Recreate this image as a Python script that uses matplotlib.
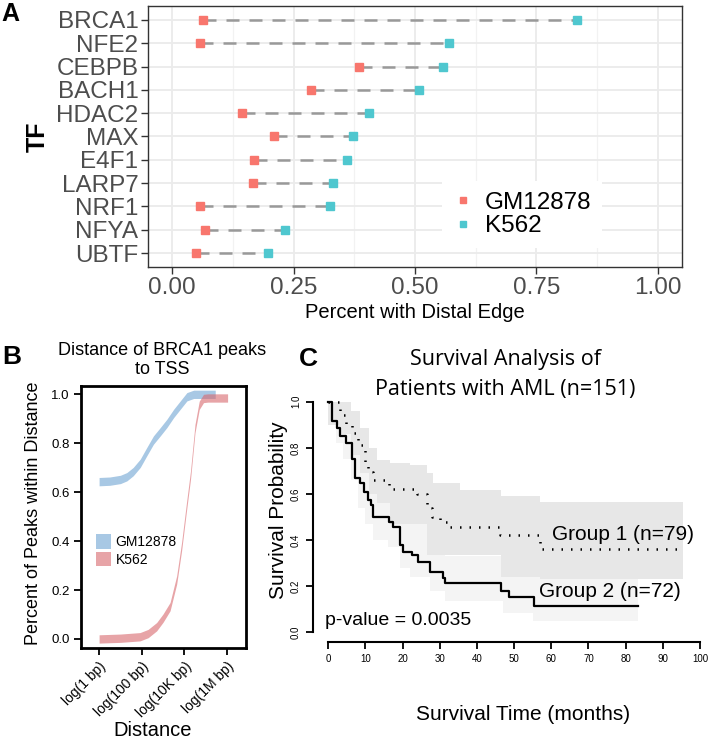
import numpy as np
import matplotlib.pyplot as plt
from matplotlib.patches import Patch
from matplotlib.lines import Line2D

plt.rcParams['font.family'] = ['Liberation Sans', 'DejaVu Sans']

# ---- Panel A: Anteil mit distaler Kante pro TF
tf_names = ['BRCA1', 'NFE2', 'CEBPB', 'BACH1', 'HDAC2', 'MAX', 'E4F1', 'LARP7', 'NRF1', 'NFYA', 'UBTF']
gm_distal = [0.063, 0.057, 0.384, 0.285, 0.144, 0.210, 0.169, 0.167, 0.058, 0.067, 0.049]
k562_distal = [0.833, 0.570, 0.557, 0.509, 0.406, 0.372, 0.360, 0.331, 0.324, 0.233, 0.198]
a_xticks = [0, 0.25, 0.5, 0.75, 1.0]
a_xlabels = ['0.00', '0.25', '0.50', '0.75', '1.00']

# ---- Panel B: kumulative Verteilung der Distanz zum TSS (log10 bp)
gm_logdist = [0, 0.5, 1.0, 1.3, 1.6, 1.93, 2.24, 2.55, 2.87, 3.18, 3.5, 3.81, 4.12, 4.44, 5.45]
gm_frac = [0.643, 0.645, 0.652, 0.663, 0.684, 0.718, 0.766, 0.813, 0.847, 0.881, 0.922, 0.956, 0.99, 1.0, 1.0]
k562_logdist = [0, 1.0, 1.92, 2.3, 2.7, 3.0, 3.33, 3.64, 3.87, 4.1, 4.29, 4.5, 4.7, 4.9, 5.1, 6.03]
k562_frac = [0.0, 0.003, 0.009, 0.022, 0.05, 0.085, 0.132, 0.241, 0.377, 0.54, 0.67, 0.86, 0.955, 0.983, 0.985, 0.985]
b_xticks = [0, 2, 4, 6]
b_xlabels = ['log(1 bp)', 'log(100 bp)', 'log(10K bp)', 'log(1M bp)']
b_yticks = [0.0, 0.2, 0.4, 0.6, 0.8, 1.0]

# ---- Panel C: Kaplan-Meier
g1_time = [0, 3.15, 4.9, 6.3, 8.1, 9.9, 10.76, 12.1, 16.4, 23.9, 26.5, 27.8, 30.0, 32.3, 46.2, 57.0, 93.7]
g1_surv = [1.0, 0.942, 0.899, 0.863, 0.813, 0.733, 0.697, 0.66, 0.62, 0.598, 0.538, 0.501, 0.48, 0.458, 0.422, 0.36, 0.36]
g2_time = [0, 1.0, 2.25, 3.15, 4.76, 6.29, 7.19, 8.53, 9.7, 10.76, 11.5, 12.1, 16.4, 17.5, 19.3, 20.2, 22.4,
           24.2, 27.4, 30.8, 31.4, 46.6, 48.5, 55.3, 83.4]
g2_surv = [1.0, 0.918, 0.885, 0.851, 0.822, 0.75, 0.668, 0.646, 0.61, 0.574, 0.552, 0.50, 0.48, 0.458, 0.379,
           0.35, 0.335, 0.306, 0.26, 0.237, 0.212, 0.18, 0.154, 0.115, 0.115]
g1_ci_time = [0, 3, 6, 8.5, 11, 13, 16.6, 22, 26.5, 28.3, 35.4, 46.5, 57, 95.5]
g1_ci_up = [1.0, 1.0, 0.96, 0.886, 0.80, 0.747, 0.735, 0.725, 0.69, 0.646, 0.617, 0.59, 0.566, 0.566]
g1_ci_lo = [0.9, 0.86, 0.77, 0.69, 0.6, 0.56, 0.47, 0.47, 0.335, 0.335, 0.335, 0.24, 0.23, 0.23]
g2_ci_time = [0, 2, 4, 6, 8, 10, 12, 16, 19.3, 22, 27.4, 31.4, 46.9, 55, 83.4]
g2_ci_up = [1.0, 1.0, 0.96, 0.9, 0.8, 0.72, 0.63, 0.61, 0.5, 0.47, 0.38, 0.33, 0.29, 0.24, 0.24]
g2_ci_lo = [0.92, 0.82, 0.75, 0.66, 0.54, 0.47, 0.40, 0.37, 0.28, 0.24, 0.18, 0.135, 0.085, 0.05, 0.05]
c_xticks = list(range(0, 101, 10))
c_yticks = [0.0, 0.2, 0.4, 0.6, 0.8, 1.0]

rot = '#F8766D'
tuerkis = '#4FC7CF'
blau = '#A8C8E4'
rosa = '#D8676D'

fig = plt.figure(figsize=(7.09, 7.40), dpi=100)
W, H = 709, 740


def fx(px):
    return px / W


def fy(py):
    return 1 - py / H


# ===== A =====
axA = fig.add_axes([fx(148), fy(267), fx(682) - fx(148), fy(6) - fy(267)])
ypos = np.arange(len(tf_names))[::-1] + 1
for g, k, yy in zip(gm_distal, k562_distal, ypos):
    axA.plot([g, k], [yy, yy], color='#999999', lw=1.8, dashes=(5.2, 4), zorder=2)
axA.plot(gm_distal, ypos, 's', color=rot, ms=5.5, zorder=3)
axA.plot(k562_distal, ypos, 's', color=tuerkis, ms=5.5, zorder=3)
axA.set_xlim(-0.05, 1.05)
axA.set_ylim(0.4, 11.6)
axA.set_xticks(a_xticks)
axA.set_xticklabels(a_xlabels)
axA.set_xticks(np.arange(0.125, 1.0, 0.25), minor=True)
axA.set_yticks(ypos)
axA.set_yticklabels(tf_names)
axA.set_axisbelow(True)
axA.grid(which='major', color='#EBEBEB', lw=1.3)
axA.grid(which='minor', axis='x', color='#F2F2F2', lw=0.9)
axA.tick_params(which='minor', length=0)
axA.tick_params(which='major', labelsize=17.5, labelcolor='#4D4D4D', color='#333333', length=5, width=1, pad=2)
for s in axA.spines.values():
    s.set_color('#333333')
    s.set_linewidth(1)
hand = [Line2D([], [], marker='s', ls='none', color=rot, ms=5),
        Line2D([], [], marker='s', ls='none', color=tuerkis, ms=5)]
lg = axA.legend(hand, ['GM12878', 'K562'], loc='center', bbox_to_anchor=(0.701, 0.201), fontsize=17.5,
                frameon=True, facecolor='white', edgecolor='none', framealpha=1, handlelength=0.8,
                handletextpad=0.5, labelspacing=0.05, borderpad=0.45, fancybox=False)
fig.text(fx(415), fy(313), 'Percent with Distal Edge', ha='center', va='center', fontsize=14.5)
fig.text(fx(38), fy(137), 'TF', ha='center', va='center', rotation=90, fontsize=18, fontweight='bold')
fig.text(fx(10), fy(14), 'A', ha='center', va='center', fontsize=18, fontweight='bold')

# ===== B =====
axB = fig.add_axes([fx(81), fy(648), fx(245.7) - fx(81), fy(386) - fy(648)])
h = 0.017
gx, gy = np.array(gm_logdist), np.array(gm_frac)
kx, ky = np.array(k562_logdist), np.array(k562_frac)
axB.fill_between(gx, gy - h, gy + h, color=blau, lw=0)
axB.fill_between(kx, ky - h, ky + h, color=rosa, alpha=0.6, lw=0)
axB.set_xlim(-0.85, 6.88)
axB.set_ylim(-0.037, 1.034)
axB.set_xticks(b_xticks)
axB.set_xticklabels(b_xlabels, rotation=45, ha='right', rotation_mode='anchor', fontsize=10)
axB.set_yticks(b_yticks)
axB.set_yticklabels(['%.1f' % v for v in b_yticks], fontsize=9.5)
axB.tick_params(length=5, width=1.3, pad=3)
for s in axB.spines.values():
    s.set_linewidth(2)
axB.legend([Patch(facecolor=blau), Patch(facecolor=rosa, alpha=0.6)], ['GM12878', 'K562'],
           loc='upper left', bbox_to_anchor=(0.05, 0.46), frameon=False, fontsize=10,
           handlelength=1.1, handleheight=1.2, labelspacing=0.2, handletextpad=0.3, borderpad=0)
fig.text(fx(162), fy(350), 'Distance of BRCA1 peaks', ha='center', va='center', fontsize=13)
fig.text(fx(162), fy(370), 'to TSS', ha='center', va='center', fontsize=13)
fig.text(fx(34), fy(513), 'Percent of Peaks within Distance', ha='center', va='center', rotation=90,
         fontsize=13)
fig.text(fx(153), fy(731), 'Distance', ha='center', va='center', fontsize=14.5)
fig.text(fx(12), fy(357), 'B', ha='center', va='center', fontsize=19, fontweight='bold')

# ===== C =====
axC = fig.add_axes([fx(313.4), fy(641.5), fx(707.4) - fx(313.4), fy(392.5) - fy(641.5)])
axC.fill_between(g2_ci_time, g2_ci_lo, g2_ci_up, step='post', color='#F4F4F4', lw=0)
axC.fill_between(g1_ci_time, g1_ci_lo, g1_ci_up, step='post', color='#E7E7E7', lw=0)
axC.step(g1_time, g1_surv, where='post', color='black', lw=1.8, ls=(0, (0.6, 3.2)))
axC.step(g2_time, g2_surv, where='post', color='black', lw=1.6)
axC.set_xlim(-4, 102)
axC.set_ylim(-0.04, 1.04)
for side in ['top', 'right']:
    axC.spines[side].set_visible(False)
axC.spines['left'].set_bounds(0, 1)
axC.spines['bottom'].set_bounds(0, 100)
axC.spines['left'].set_linewidth(1.5)
axC.spines['bottom'].set_linewidth(1.5)
axC.set_xticks(c_xticks)
axC.set_xticklabels([str(v) for v in c_xticks], fontsize=7)
axC.set_yticks(c_yticks)
axC.set_yticklabels(['%.1f' % v for v in c_yticks], fontsize=7, rotation=90, va='center')
axC.tick_params(length=5, width=1.3, pad=4)
axC.text(60.1, 0.422, 'Group 1 (n=79)', ha='left', va='center', fontsize=15)
axC.text(56.7, 0.176, 'Group 2 (n=72)', ha='left', va='center', fontsize=15)
axC.text(-0.9, 0.053, 'p-value = 0.0035', ha='left', va='center', fontsize=14)
fig.text(fx(505), fy(360), 'Survival Analysis of', ha='center', va='center', fontsize=15.5,
         family=['Open Sans', 'DejaVu Sans'])
fig.text(fx(505), fy(390), 'Patients with AML (n=151)', ha='center', va='center', fontsize=15.5,
         family=['Open Sans', 'DejaVu Sans'])
fig.text(fx(279), fy(510), 'Survival Probability', ha='center', va='center', rotation=90, fontsize=15)
fig.text(fx(523), fy(715), 'Survival Time (months)', ha='center', va='center', fontsize=15)
fig.text(fx(308), fy(359), 'C', ha='center', va='center', fontsize=19, fontweight='bold')

fig.savefig('out.png', dpi=100)
print("fertig")
